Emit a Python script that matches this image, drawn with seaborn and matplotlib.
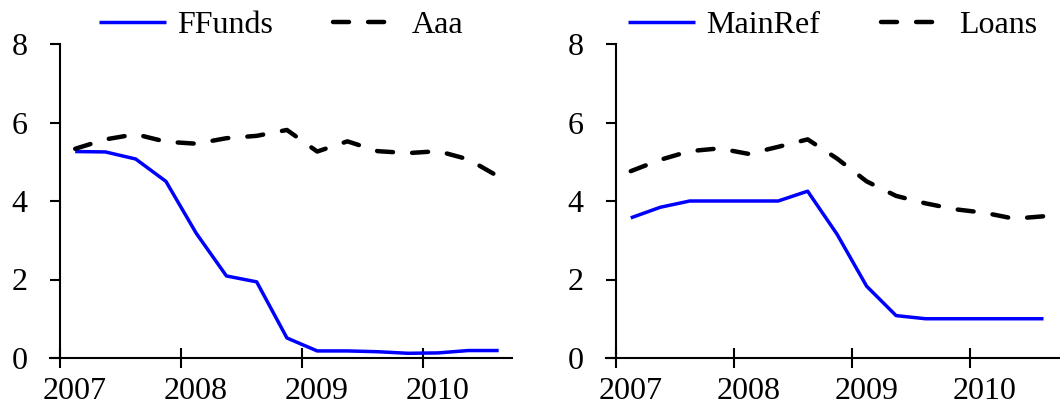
import matplotlib
matplotlib.use("Agg")
import matplotlib.pyplot as plt
import matplotlib.transforms as mtransforms
import seaborn as sns
import pandas as pd

# Quarterly observations (mid-quarter, decimal years)
quarters = [2007.125, 2007.375, 2007.625, 2007.875,
            2008.125, 2008.375, 2008.625, 2008.875,
            2009.125, 2009.375, 2009.625, 2009.875,
            2010.125, 2010.375, 2010.625]

ffunds = [5.26, 5.25, 5.07, 4.50, 3.18, 2.09, 1.94, 0.51,
          0.18, 0.18, 0.16, 0.12, 0.13, 0.19, 0.19]
aaa = [5.33, 5.57, 5.70, 5.51, 5.46, 5.60, 5.66, 5.81,
       5.26, 5.52, 5.27, 5.22, 5.27, 5.06, 4.62]

mainref = [3.57, 3.84, 4.00, 4.00, 4.00, 4.00, 4.25, 3.15,
           1.83, 1.08, 1.00, 1.00, 1.00, 1.00, 1.00]
loans = [4.76, 5.05, 5.27, 5.34, 5.20, 5.38, 5.57, 5.08,
         4.50, 4.13, 3.94, 3.79, 3.70, 3.55, 3.61]

xticks = [2007, 2008, 2009, 2010]
yticks = [0, 2, 4, 6, 8]

sns.set_theme(style="white")
plt.rcParams['font.family'] = ['Liberation Serif', 'DejaVu Serif']
FS = 23
plt.rcParams['font.size'] = FS

fig = plt.figure(figsize=(10.6, 4.07), dpi=100)
ax1 = fig.add_axes([50/1060, 49/407, 462/1060, 314/407])
ax2 = fig.add_axes([606/1060, 49/407, 454/1060, 314/407])

panels = [
    (ax1, ffunds, aaa, "FFunds", "Aaa", (2006.917, 2010.735)),
    (ax2, mainref, loans, "MainRef", "Loans", (2006.915, 2010.765)),
]

shift = mtransforms.ScaledTranslation(0.15, -0.02, fig.dpi_scale_trans)

for ax, solid, dashed, lab1, lab2, xl in panels:
    df = pd.DataFrame({"t": quarters, "a": solid, "b": dashed})
    sns.lineplot(data=df, x="t", y="a", ax=ax, color="#0000ff",
                 label=lab1)
    sns.lineplot(data=df, x="t", y="b", ax=ax, color="black",
                 label=lab2)
    l1, l2 = ax.lines[0], ax.lines[1]
    l1.set_linewidth(2.5)
    l1.set_solid_capstyle("butt")
    l2.set_linewidth(3.2)
    l2.set_dash_capstyle("round")
    l2.set_dashes([3.6, 4.3])
    ax.set_xlim(*xl)
    ax.set_ylim(0, 8)
    ax.set_xticks(xticks)
    ax.set_xticklabels([str(v) for v in xticks])
    ax.set_yticks(yticks)
    ax.set_yticklabels([str(v) for v in yticks])
    ax.set_xlabel("")
    ax.set_ylabel("")
    for s in ["top", "right"]:
        ax.spines[s].set_visible(False)
    ax.spines["left"].set_position(("data", 2007))
    for s in ["left", "bottom"]:
        ax.spines[s].set_color("black")
        ax.spines[s].set_linewidth(1.5)
    ax.tick_params(axis="x", direction="inout", length=14.5, width=1.5,
                   colors="black", pad=5, labelsize=FS, bottom=True)
    ax.tick_params(axis="y", direction="out", length=7.2, width=1.5,
                   colors="black", pad=16, labelsize=FS, left=True)
    for lab in ax.get_xticklabels():
        lab.set_transform(lab.get_transform() + shift)
    ax.set_facecolor("white")
    ax.grid(False)
    leg = ax.legend(loc="lower center", bbox_to_anchor=(0.5, 1.012), ncol=2,
                    frameon=False, handlelength=2.1, handletextpad=0.35,
                    columnspacing=1.9, fontsize=FS, borderaxespad=0.0,
                    borderpad=0.0)
    for t in leg.get_texts():
        t.set_color("black")

fig.savefig("out.png", dpi=100, facecolor="white")
